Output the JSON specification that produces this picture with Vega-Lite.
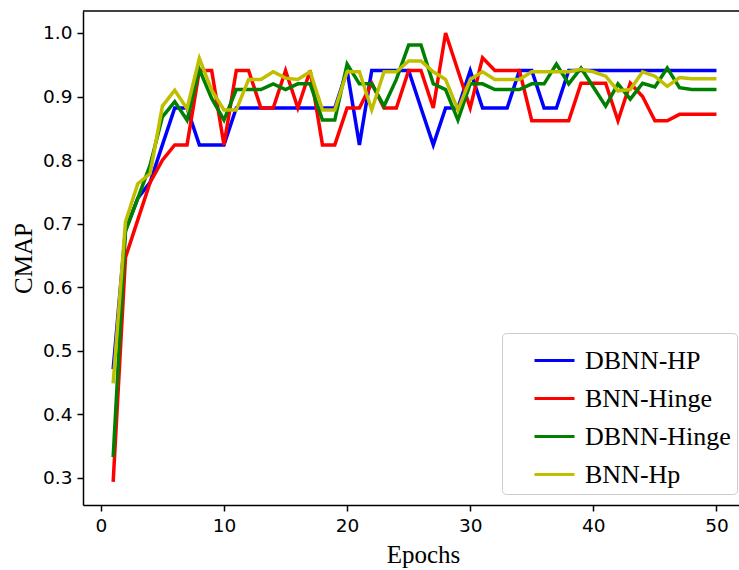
{
  "$schema": "https://vega.github.io/schema/vega-lite/v6.json",
  "width": 656,
  "height": 494,
  "autosize": {"type": "none"},
  "padding": {"left": 83, "top": 11, "right": 0, "bottom": 65},
  "background": "white",
  "config": {
    "view": {"stroke": null},
    "axis": {
      "grid": false,
      "domainColor": "black",
      "domainWidth": 1.5,
      "tickColor": "black",
      "tickWidth": 1.5,
      "tickSize": 6,
      "labelFont": "DejaVu Sans",
      "labelFontSize": 18.5,
      "labelColor": "black",
      "labelPadding": 5,
      "titleFont": "Liberation Serif",
      "titleFontSize": 25,
      "titleFontWeight": "normal",
      "titleColor": "black"
    }
  },
  "data": {
    "values": [
      {"epoch": 1, "DBNN-HP": 0.471, "BNN-Hinge": 0.294, "DBNN-Hinge": 0.333, "BNN-Hp": 0.449},
      {"epoch": 2, "DBNN-HP": 0.69, "BNN-Hinge": 0.647, "DBNN-Hinge": 0.688, "BNN-Hp": 0.703},
      {"epoch": 3, "DBNN-HP": 0.74, "BNN-Hinge": 0.706, "DBNN-Hinge": 0.74, "BNN-Hp": 0.763},
      {"epoch": 4, "DBNN-HP": 0.765, "BNN-Hinge": 0.765, "DBNN-Hinge": 0.792, "BNN-Hp": 0.779},
      {"epoch": 5, "DBNN-HP": 0.824, "BNN-Hinge": 0.8, "DBNN-Hinge": 0.868, "BNN-Hp": 0.885},
      {"epoch": 6, "DBNN-HP": 0.882, "BNN-Hinge": 0.824, "DBNN-Hinge": 0.892, "BNN-Hp": 0.91},
      {"epoch": 7, "DBNN-HP": 0.882, "BNN-Hinge": 0.824, "DBNN-Hinge": 0.863, "BNN-Hp": 0.881},
      {"epoch": 8, "DBNN-HP": 0.824, "BNN-Hinge": 0.941, "DBNN-Hinge": 0.943, "BNN-Hp": 0.96},
      {"epoch": 9, "DBNN-HP": 0.824, "BNN-Hinge": 0.941, "DBNN-Hinge": 0.897, "BNN-Hp": 0.91},
      {"epoch": 10, "DBNN-HP": 0.824, "BNN-Hinge": 0.824, "DBNN-Hinge": 0.863, "BNN-Hp": 0.879},
      {"epoch": 11, "DBNN-HP": 0.882, "BNN-Hinge": 0.941, "DBNN-Hinge": 0.911, "BNN-Hp": 0.879},
      {"epoch": 12, "DBNN-HP": 0.882, "BNN-Hinge": 0.941, "DBNN-Hinge": 0.911, "BNN-Hp": 0.927},
      {"epoch": 13, "DBNN-HP": 0.882, "BNN-Hinge": 0.882, "DBNN-Hinge": 0.911, "BNN-Hp": 0.927},
      {"epoch": 14, "DBNN-HP": 0.882, "BNN-Hinge": 0.882, "DBNN-Hinge": 0.92, "BNN-Hp": 0.939},
      {"epoch": 15, "DBNN-HP": 0.882, "BNN-Hinge": 0.941, "DBNN-Hinge": 0.911, "BNN-Hp": 0.929},
      {"epoch": 16, "DBNN-HP": 0.882, "BNN-Hinge": 0.882, "DBNN-Hinge": 0.92, "BNN-Hp": 0.927},
      {"epoch": 17, "DBNN-HP": 0.882, "BNN-Hinge": 0.941, "DBNN-Hinge": 0.92, "BNN-Hp": 0.939},
      {"epoch": 18, "DBNN-HP": 0.882, "BNN-Hinge": 0.824, "DBNN-Hinge": 0.863, "BNN-Hp": 0.879},
      {"epoch": 19, "DBNN-HP": 0.882, "BNN-Hinge": 0.824, "DBNN-Hinge": 0.863, "BNN-Hp": 0.879},
      {"epoch": 20, "DBNN-HP": 0.941, "BNN-Hinge": 0.882, "DBNN-Hinge": 0.951, "BNN-Hp": 0.939},
      {"epoch": 21, "DBNN-HP": 0.824, "BNN-Hinge": 0.882, "DBNN-Hinge": 0.92, "BNN-Hp": 0.939},
      {"epoch": 22, "DBNN-HP": 0.941, "BNN-Hinge": 0.921, "DBNN-Hinge": 0.92, "BNN-Hp": 0.879},
      {"epoch": 23, "DBNN-HP": 0.941, "BNN-Hinge": 0.882, "DBNN-Hinge": 0.885, "BNN-Hp": 0.939},
      {"epoch": 24, "DBNN-HP": 0.941, "BNN-Hinge": 0.882, "DBNN-Hinge": 0.927, "BNN-Hp": 0.939},
      {"epoch": 25, "DBNN-HP": 0.941, "BNN-Hinge": 0.941, "DBNN-Hinge": 0.981, "BNN-Hp": 0.956},
      {"epoch": 26, "DBNN-HP": 0.882, "BNN-Hinge": 0.941, "DBNN-Hinge": 0.981, "BNN-Hp": 0.956},
      {"epoch": 27, "DBNN-HP": 0.824, "BNN-Hinge": 0.882, "DBNN-Hinge": 0.92, "BNN-Hp": 0.939},
      {"epoch": 28, "DBNN-HP": 0.882, "BNN-Hinge": 1.0, "DBNN-Hinge": 0.911, "BNN-Hp": 0.927},
      {"epoch": 29, "DBNN-HP": 0.882, "BNN-Hinge": 0.941, "DBNN-Hinge": 0.863, "BNN-Hp": 0.879},
      {"epoch": 30, "DBNN-HP": 0.941, "BNN-Hinge": 0.882, "DBNN-Hinge": 0.92, "BNN-Hp": 0.927},
      {"epoch": 31, "DBNN-HP": 0.882, "BNN-Hinge": 0.961, "DBNN-Hinge": 0.92, "BNN-Hp": 0.939},
      {"epoch": 32, "DBNN-HP": 0.882, "BNN-Hinge": 0.941, "DBNN-Hinge": 0.911, "BNN-Hp": 0.927},
      {"epoch": 33, "DBNN-HP": 0.882, "BNN-Hinge": 0.941, "DBNN-Hinge": 0.911, "BNN-Hp": 0.927},
      {"epoch": 34, "DBNN-HP": 0.941, "BNN-Hinge": 0.941, "DBNN-Hinge": 0.911, "BNN-Hp": 0.927},
      {"epoch": 35, "DBNN-HP": 0.941, "BNN-Hinge": 0.862, "DBNN-Hinge": 0.92, "BNN-Hp": 0.939},
      {"epoch": 36, "DBNN-HP": 0.882, "BNN-Hinge": 0.862, "DBNN-Hinge": 0.92, "BNN-Hp": 0.939},
      {"epoch": 37, "DBNN-HP": 0.882, "BNN-Hinge": 0.862, "DBNN-Hinge": 0.951, "BNN-Hp": 0.939},
      {"epoch": 38, "DBNN-HP": 0.941, "BNN-Hinge": 0.862, "DBNN-Hinge": 0.92, "BNN-Hp": 0.939},
      {"epoch": 39, "DBNN-HP": 0.941, "BNN-Hinge": 0.921, "DBNN-Hinge": 0.945, "BNN-Hp": 0.943},
      {"epoch": 40, "DBNN-HP": 0.941, "BNN-Hinge": 0.921, "DBNN-Hinge": 0.915, "BNN-Hp": 0.939},
      {"epoch": 41, "DBNN-HP": 0.941, "BNN-Hinge": 0.921, "DBNN-Hinge": 0.885, "BNN-Hp": 0.932},
      {"epoch": 42, "DBNN-HP": 0.941, "BNN-Hinge": 0.862, "DBNN-Hinge": 0.92, "BNN-Hp": 0.909},
      {"epoch": 43, "DBNN-HP": 0.941, "BNN-Hinge": 0.921, "DBNN-Hinge": 0.896, "BNN-Hp": 0.911},
      {"epoch": 44, "DBNN-HP": 0.941, "BNN-Hinge": 0.9, "DBNN-Hinge": 0.921, "BNN-Hp": 0.939},
      {"epoch": 45, "DBNN-HP": 0.941, "BNN-Hinge": 0.862, "DBNN-Hinge": 0.915, "BNN-Hp": 0.932},
      {"epoch": 46, "DBNN-HP": 0.941, "BNN-Hinge": 0.862, "DBNN-Hinge": 0.945, "BNN-Hp": 0.916},
      {"epoch": 47, "DBNN-HP": 0.941, "BNN-Hinge": 0.872, "DBNN-Hinge": 0.914, "BNN-Hp": 0.93},
      {"epoch": 48, "DBNN-HP": 0.941, "BNN-Hinge": 0.872, "DBNN-Hinge": 0.911, "BNN-Hp": 0.928},
      {"epoch": 49, "DBNN-HP": 0.941, "BNN-Hinge": 0.872, "DBNN-Hinge": 0.911, "BNN-Hp": 0.928},
      {"epoch": 50, "DBNN-HP": 0.941, "BNN-Hinge": 0.872, "DBNN-Hinge": 0.911, "BNN-Hp": 0.928}
    ]
  },
  "layer": [
    {
      "transform": [
        {"fold": ["DBNN-HP", "BNN-Hinge", "DBNN-Hinge", "BNN-Hp"], "as": ["model", "cmap"]}
      ],
      "mark": {"type": "line", "strokeWidth": 3.5, "clip": true},
      "encoding": {
        "x": {
          "field": "epoch",
          "type": "quantitative",
          "scale": {"domain": [-1.45, 51.83], "nice": false, "zero": false},
          "axis": {"values": [0, 10, 20, 30, 40, 50], "title": "Epochs", "titlePadding": 8, "titleX": 340}
        },
        "y": {
          "field": "cmap",
          "type": "quantitative",
          "scale": {"domain": [0.2575, 1.0346], "nice": false, "zero": false},
          "axis": {"values": [0.3, 0.4, 0.5, 0.6, 0.7, 0.8, 0.9, 1.0], "format": ".1f", "title": "CMAP", "titlePadding": 6}
        },
        "color": {
          "field": "model",
          "type": "nominal",
          "scale": {
            "domain": ["DBNN-HP", "BNN-Hinge", "DBNN-Hinge", "BNN-Hp"],
            "range": ["#0000ff", "#ff0000", "#008000", "#bfbf00"]
          },
          "legend": {
            "title": null,
            "orient": "none",
            "legendX": 419,
            "legendY": 322,
            "padding": 6,
            "fillColor": "white",
            "strokeColor": "#cccccc",
            "cornerRadius": 4,
            "symbolType": "stroke",
            "symbolSize": 1600,
            "symbolStrokeWidth": 3,
            "symbolOffset": 25,
            "labelOffset": 9,
            "labelFont": "Liberation Serif",
            "labelFontSize": 26,
            "labelColor": "black",
            "labelLimit": 300,
            "rowPadding": 3
          }
        }
      }
    },
    {
      "data": {"values": [{"top": 1.0346}]},
      "mark": {"type": "rule", "color": "black", "strokeWidth": 1.5},
      "encoding": {"y": {"field": "top", "type": "quantitative"}}
    }
  ]
}
